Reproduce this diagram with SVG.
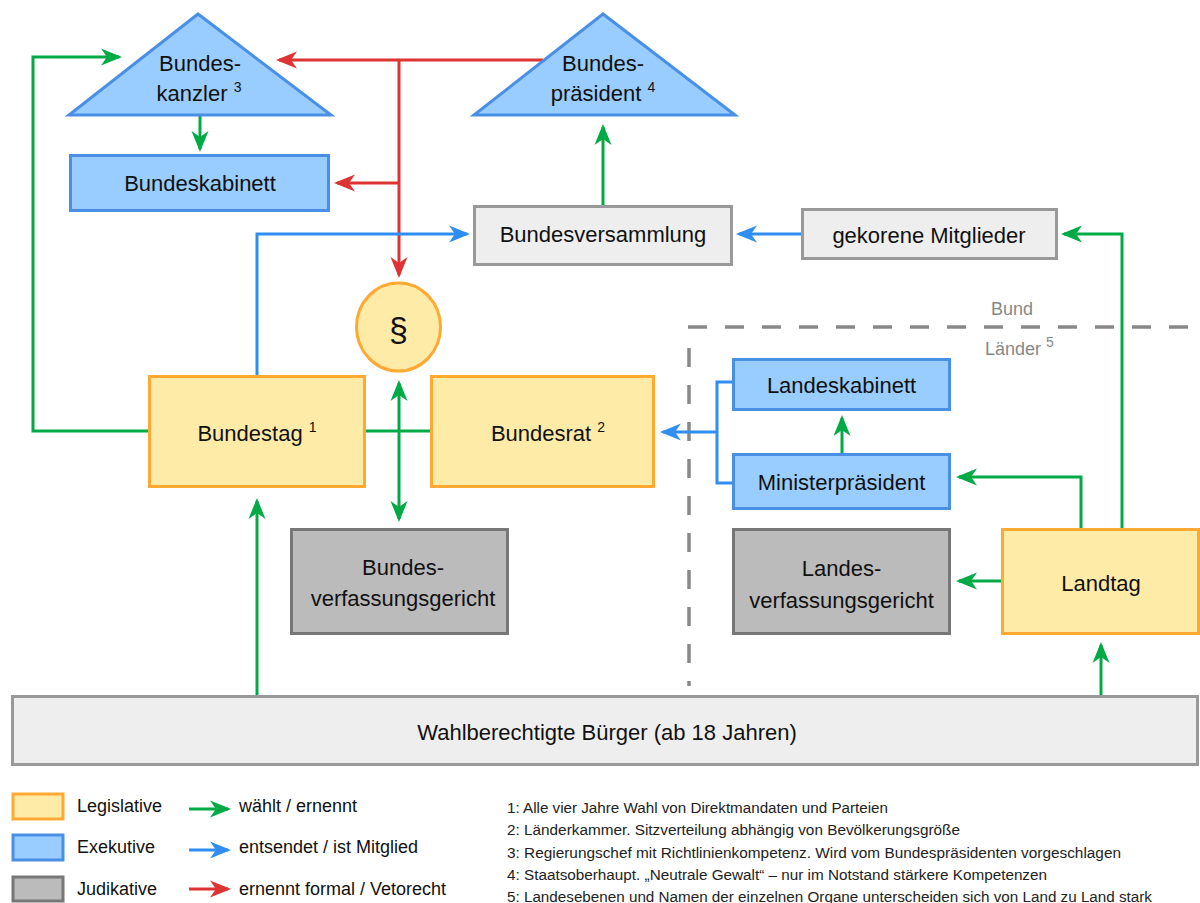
<svg xmlns="http://www.w3.org/2000/svg" width="1200" height="903" viewBox="0 0 1200 903">
<style>
text{font-family:"Liberation Sans",Arial,sans-serif;fill:#111}
.t{font-size:22px;text-anchor:middle}
.sup{font-size:14px}
.leg{font-size:18px}
.fn{font-size:14px;fill:#222}
.lab{font-size:18px;fill:#888}
.exe{fill:#99ccff;stroke:#4a8fe6;stroke-width:3}
.legi{fill:#ffeba8;stroke:#ffa933;stroke-width:3}
.jud{fill:#bbbbbb;stroke:#777777;stroke-width:3}
.oth{fill:#eeeeee;stroke:#999999;stroke-width:3}
.c{fill:none;stroke-width:3}
.g{stroke:#00aa44}
.b{stroke:#2f8ef0}
.r{stroke:#dd3333}
.dash{fill:none;stroke:#888;stroke-width:3.5;stroke-dasharray:19 18}
</style>
<defs>
<marker id="ag" viewBox="-21 -9 22 18" refX="-3" refY="0" markerWidth="22" markerHeight="18" markerUnits="userSpaceOnUse" orient="auto-start-reverse"><path d="M0,0 L-21,-8.5 L-15,0 L-21,8.5 Z" fill="#00aa44"/></marker>
<marker id="ab" viewBox="-21 -9 22 18" refX="-3" refY="0" markerWidth="22" markerHeight="18" markerUnits="userSpaceOnUse" orient="auto-start-reverse"><path d="M0,0 L-21,-8.5 L-15,0 L-21,8.5 Z" fill="#2f8ef0"/></marker>
<marker id="ar" viewBox="-21 -9 22 18" refX="-3" refY="0" markerWidth="22" markerHeight="18" markerUnits="userSpaceOnUse" orient="auto-start-reverse"><path d="M0,0 L-21,-8.5 L-15,0 L-21,8.5 Z" fill="#dd3333"/></marker>
</defs>
<rect width="1200" height="903" fill="#ffffff"/>

<g id="separator">
<path class="dash" d="M688,327 H1200"/>
<path class="dash" d="M689,348 V686"/>
<text class="lab" x="1012" y="315" text-anchor="middle">Bund</text>
<text class="lab" x="985" y="355">Länder <tspan class="sup" dy="-8">5</tspan></text>
</g>

<g id="connectors">
<path class="c g" d="M149,431 H33 V57 H119" marker-end="url(#ag)"/>
<path class="c g" d="M200,116 V149" marker-end="url(#ag)"/>
<path class="c r" d="M543,60 H279" marker-end="url(#ar)"/>
<path class="c r" d="M399,60 V275" marker-end="url(#ar)"/>
<path class="c r" d="M399,183 H337" marker-end="url(#ar)"/>
<path class="c g" d="M603,206 V127" marker-end="url(#ag)"/>
<path class="c b" d="M257,376 V234 H467" marker-end="url(#ab)"/>
<path class="c b" d="M802,234 H739" marker-end="url(#ab)"/>
<path class="c g" d="M1122,529 V234 H1064" marker-end="url(#ag)"/>
<path class="c g" d="M365,431 H431"/>
<path class="c g" d="M399,383 V519" marker-start="url(#ag)" marker-end="url(#ag)"/>
<path class="c g" d="M257,696 V501" marker-end="url(#ag)"/>
<path class="c b" d="M733,382 H717 V483 H733"/>
<path class="c b" d="M717,432 H663" marker-end="url(#ab)"/>
<path class="c g" d="M842,454 V418" marker-end="url(#ag)"/>
<path class="c g" d="M1081,529 V477 H959" marker-end="url(#ag)"/>
<path class="c g" d="M1002,581 H959" marker-end="url(#ag)"/>
<path class="c g" d="M1101,696 V645" marker-end="url(#ag)"/>
</g>

<g id="bundeskanzler">
<polygon class="exe" points="198,14 69,115 331,115"/>
<text class="t" x="200" y="71">Bundes-</text>
<text class="t" x="199" y="101">kanzler <tspan class="sup" dy="-9">3</tspan></text>
</g>

<g id="bundespraesident">
<polygon class="exe" points="603,14 474,115 735,115"/>
<text class="t" x="603" y="71">Bundes-</text>
<text class="t" x="603" y="101">präsident <tspan class="sup" dy="-9">4</tspan></text>
</g>

<g id="bundeskabinett">
<rect class="exe" x="70.5" y="155.5" width="258" height="55"/>
<text class="t" x="200" y="191">Bundeskabinett</text>
</g>

<g id="bundesversammlung">
<rect class="oth" x="474.5" y="206.5" width="257" height="58"/>
<text class="t" x="603" y="242">Bundesversammlung</text>
</g>

<g id="gekorene">
<rect class="oth" x="802.5" y="209.5" width="254" height="49"/>
<text class="t" x="929" y="243">gekorene Mitglieder</text>
</g>

<g id="grundgesetz">
<ellipse cx="398.5" cy="327" rx="42" ry="44" fill="#ffeba8" stroke="#ffa933" stroke-width="3"/>
<text x="398.5" y="341" text-anchor="middle" style="font-size:34px">§</text>
</g>

<g id="bundestag">
<rect class="legi" x="149.5" y="376.5" width="215" height="110"/>
<text class="t" x="257" y="441">Bundestag <tspan class="sup" dy="-9">1</tspan></text>
</g>

<g id="bundesrat">
<rect class="legi" x="431.5" y="376.5" width="222" height="110"/>
<text class="t" x="548" y="441">Bundesrat <tspan class="sup" dy="-9">2</tspan></text>
</g>

<g id="bundesverfassungsgericht">
<rect class="jud" x="291.5" y="529.5" width="216" height="104"/>
<text class="t" x="403" y="575">Bundes-</text>
<text class="t" x="403" y="606">verfassungsgericht</text>
</g>

<g id="landeskabinett">
<rect class="exe" x="733.5" y="359.5" width="216" height="50"/>
<text class="t" x="841.5" y="393">Landeskabinett</text>
</g>

<g id="ministerpraesident">
<rect class="exe" x="733.5" y="454.5" width="216" height="54"/>
<text class="t" x="841.5" y="490">Ministerpräsident</text>
</g>

<g id="landesverfassungsgericht">
<rect class="jud" x="733.5" y="529.5" width="216" height="104"/>
<text class="t" x="841.5" y="576">Landes-</text>
<text class="t" x="841.5" y="608">verfassungsgericht</text>
</g>

<g id="landtag">
<rect class="legi" x="1002.5" y="529.5" width="196" height="104"/>
<text class="t" x="1101" y="591">Landtag</text>
</g>

<g id="buerger">
<rect class="oth" x="12.5" y="696.5" width="1185" height="68"/>
<text class="t" x="607" y="740">Wahlberechtigte Bürger (ab 18 Jahren)</text>
</g>

<g id="legend">
<rect class="legi" x="13" y="794" width="50" height="25"/>
<rect class="exe" x="13" y="835" width="50" height="25"/>
<rect class="jud" x="13" y="877" width="50" height="24"/>
<text class="leg" x="77" y="812">Legislative</text>
<text class="leg" x="77" y="853">Exekutive</text>
<text class="leg" x="77" y="895">Judikative</text>
<path class="c g" d="M189,809 H228" marker-end="url(#ag)"/>
<path class="c b" d="M189,850 H228" marker-end="url(#ab)"/>
<path class="c r" d="M189,889 H228" marker-end="url(#ar)"/>
<text class="leg" x="239" y="812">wählt / ernennt</text>
<text class="leg" x="239" y="853">entsendet / ist Mitglied</text>
<text class="leg" x="239" y="895">ernennt formal / Vetorecht</text>
</g>

<g id="footnotes">
<text class="fn" x="507" y="813" textLength="381" lengthAdjust="spacingAndGlyphs">1: Alle vier Jahre Wahl von Direktmandaten und Parteien</text>
<text class="fn" x="507" y="835" textLength="453" lengthAdjust="spacingAndGlyphs">2: Länderkammer. Sitzverteilung abhängig von Bevölkerungsgröße</text>
<text class="fn" x="507" y="858" textLength="614" lengthAdjust="spacingAndGlyphs">3: Regierungschef mit Richtlinienkompetenz. Wird vom Bundespräsidenten vorgeschlagen</text>
<text class="fn" x="507" y="880" textLength="540" lengthAdjust="spacingAndGlyphs">4: Staatsoberhaupt. „Neutrale Gewalt“ – nur im Notstand stärkere Kompetenzen</text>
<text class="fn" x="507" y="902" textLength="645" lengthAdjust="spacingAndGlyphs">5: Landesebenen und Namen der einzelnen Organe unterscheiden sich von Land zu Land stark</text>
</g>
</svg>
